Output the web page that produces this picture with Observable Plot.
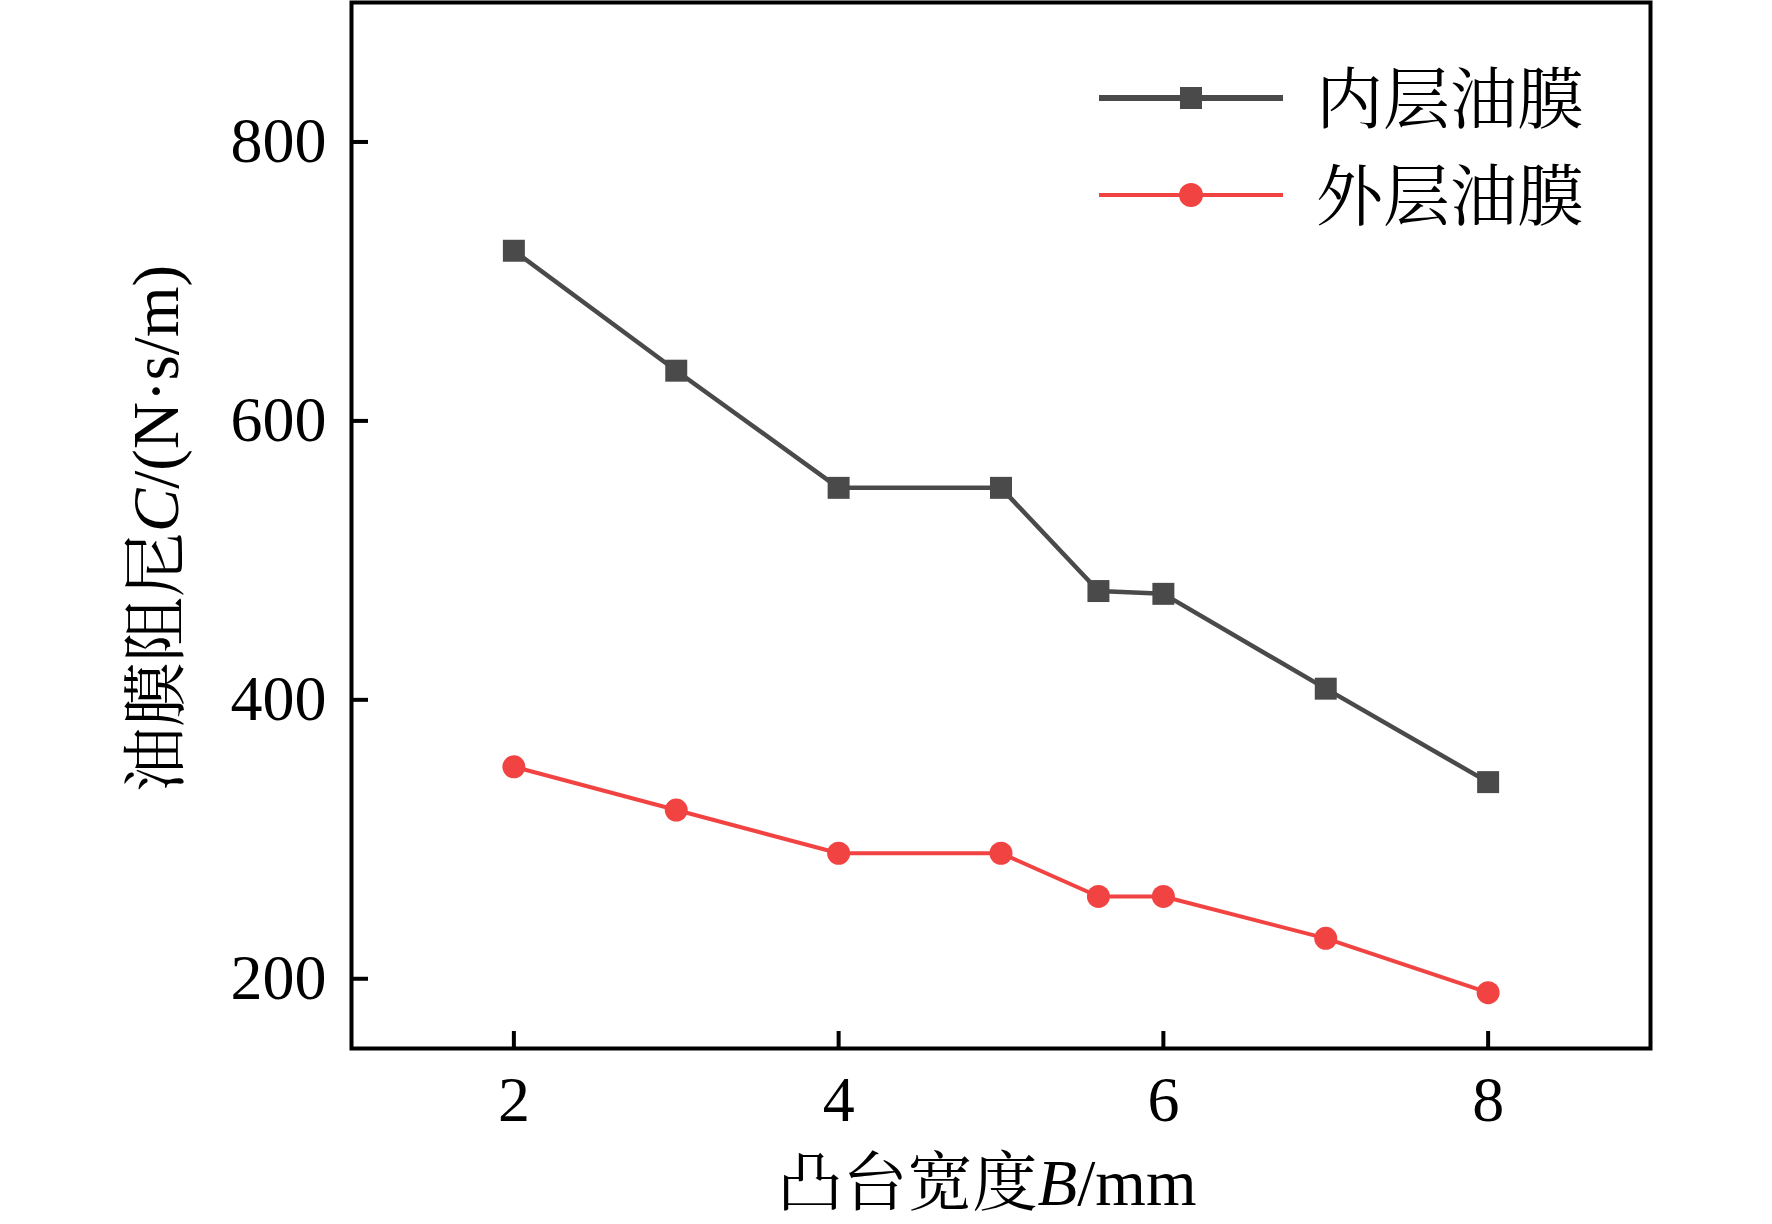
<!DOCTYPE html>
<html>
<head>
<meta charset="utf-8">
<script src="https://cdn.jsdelivr.net/npm/d3@7"></script>
<script src="https://cdn.jsdelivr.net/npm/@observablehq/plot@0.6"></script>
<style>
  html, body { margin: 0; padding: 0; background: white; }
  #wrap { position: relative; width: 1772px; height: 1224px; }
  #legend { position: absolute; left: 1050px; top: 40px; }
</style>
</head>
<body>
<div id="wrap"></div>
<script>
// ---- data ----
const widthsB = [2, 3, 4, 5, 5.6, 6, 7, 8];
const innerC = [722, 636, 552, 552, 478, 476, 408, 341];
const outerC = [352, 321, 290, 290, 259, 259, 229, 190];
const seriesNames = ["内层油膜", "外层油膜"];
const xTicks = [2, 4, 6, 8];
const yTicks = [200, 400, 600, 800];
const xTitleParts = ["凸台宽度", "B", "/mm"];
const yTitleParts = ["油膜阻尼", "C", "/(N·s/m)"];

const colors = ["#4a4a4a", "#f24343"];
const FONT = "'Liberation Serif', 'Times New Roman', 'Noto Serif CJK SC', 'Noto Sans CJK SC', serif";

const innerRows = widthsB.map((b, i) => ({b, c: innerC[i]}));
const outerRows = widthsB.map((b, i) => ({b, c: outerC[i]}));

const chart = Plot.plot({
  width: 1772,
  height: 1224,
  marginLeft: 351,
  marginRight: 122,
  marginTop: 2,
  marginBottom: 176,
  style: {fontFamily: FONT, background: "white", color: "black", overflow: "visible"},
  x: {domain: [1, 9], ticks: xTicks},
  y: {domain: [150, 900], ticks: yTicks},
  marks: [
    Plot.axisX({ticks: xTicks, tickSize: -17, tickPadding: 44, strokeWidth: 4, fontSize: 64, color: "black", label: null}),
    Plot.axisY({ticks: yTicks, tickSize: -17, tickPadding: 42, strokeWidth: 4, fontSize: 64, color: "black", label: null}),
    Plot.line(innerRows, {x: "b", y: "c", stroke: colors[0], strokeWidth: 4.5}),
    Plot.line(outerRows, {x: "b", y: "c", stroke: colors[1], strokeWidth: 4}),
    Plot.dot(innerRows, {x: "b", y: "c", symbol: "square", r: 12.4, fill: colors[0], stroke: "none"}),
    Plot.dot(outerRows, {x: "b", y: "c", symbol: "circle", r: 11.5, fill: colors[1], stroke: "none"}),
    Plot.frame({stroke: "black", strokeWidth: 4}),
    Plot.text([xTitleParts.join("")], {frameAnchor: "bottom", text: d => d, textAnchor: "middle", dx: -14, dy: 136, lineAnchor: "middle", fontSize: 65, fill: "black"}),
    Plot.text([yTitleParts.join("")], {frameAnchor: "left", text: d => d, textAnchor: "middle", rotate: -90, dx: -194, dy: 3, lineAnchor: "middle", fontSize: 65, fill: "black"})
  ]
});

function italicize(parts) {
  const full = parts.join("");
  const ns = "http://www.w3.org/2000/svg";
  chart.querySelectorAll("text").forEach(el => {
    if (el.textContent !== full) return;
    el.textContent = "";
    parts.forEach((s, k) => {
      const ts = document.createElementNS(ns, "tspan");
      ts.textContent = s;
      if (k === 1) ts.setAttribute("font-style", "italic");
      el.appendChild(ts);
    });
  });
}
italicize(xTitleParts);
italicize(yTitleParts);

const wrap = document.getElementById("wrap");
wrap.appendChild(chart);

// ---- legend overlay ----
const lg = d3.select(wrap).append("svg").attr("id", "legend")
  .attr("width", 620).attr("height", 220)
  .style("font-family", FONT);
const rowCenters = [58, 155];
const lineWidths = [6, 4];
seriesNames.forEach((name, i) => {
  const g = lg.append("g").attr("transform", `translate(0,${rowCenters[i]})`);
  g.append("line").attr("x1", 49).attr("x2", 233).attr("y1", 0).attr("y2", 0)
    .attr("stroke", colors[i]).attr("stroke-width", lineWidths[i]);
  if (i === 0) {
    g.append("rect").attr("x", 141 - 11).attr("y", -11).attr("width", 22).attr("height", 22).attr("fill", colors[i]);
  } else {
    g.append("circle").attr("cx", 141).attr("cy", 0).attr("r", 12).attr("fill", colors[i]);
  }
  g.append("text").attr("x", 266).attr("y", 25).attr("font-size", 67).attr("fill", "black").text(name);
});
</script>
</body>
</html>
